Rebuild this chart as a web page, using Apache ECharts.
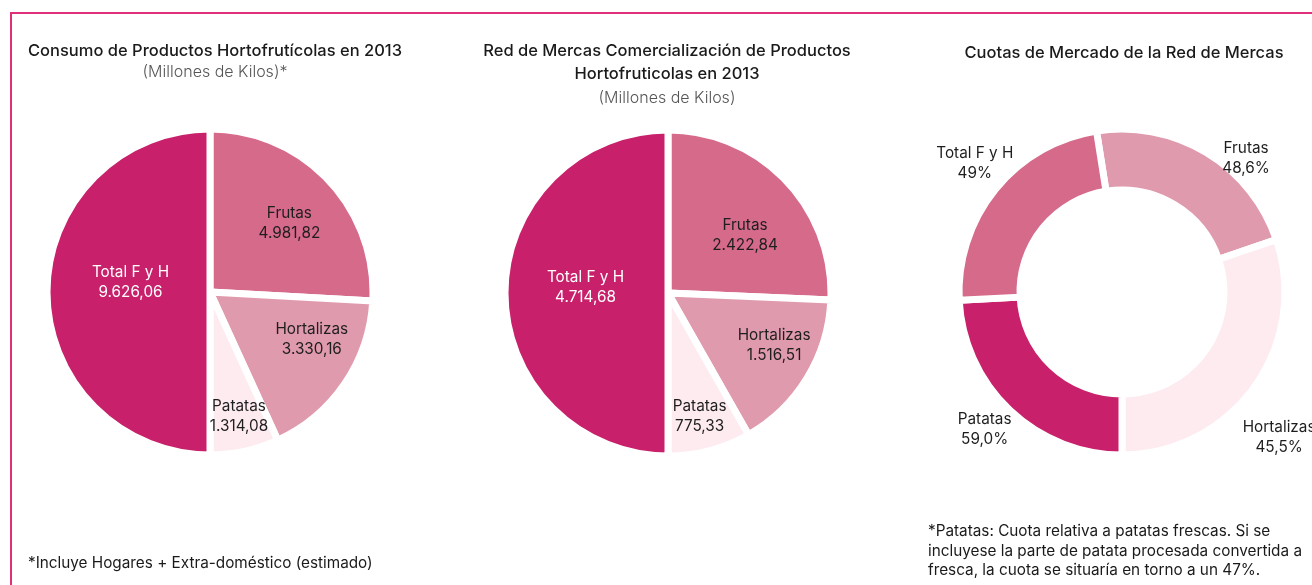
<!DOCTYPE html>
<html>
<head>
<meta charset="utf-8">
<script src="https://cdn.jsdelivr.net/npm/echarts@6/dist/echarts.min.js"></script>
<style>
  html, body { margin: 0; padding: 0; background: #fff; }
  #main { width: 1312px; height: 585px; }
</style>
</head>
<body>
<div id="main"></div>
<script>
// orden de los sectores, en sentido horario desde arriba
const categorias = ["Frutas", "Hortalizas", "Patatas", "Total F y H"];

// Consumo (millones de kilos)
const consumo = [4981.82, 3330.16, 1314.08, 9626.06];
// Red de Mercas (millones de kilos)
const mercas = [2422.84, 1516.51, 775.33, 4714.68];
// Cuotas de mercado: texto y peso del sector
const cuotaTexto = ["48,6%", "45,5%", "59,0%", "49%"];
const cuotaSector = [22.3, 30.2, 24.2, 23.3];

const colPie = ["#D56A8B", "#E09AAD", "#FDEBF0", "#C8206A"];
const colDonut = ["#E09AAD", "#FDEBF0", "#C8206A", "#D56A8B"];

// desplazamiento de etiquetas
const offPie1 = [[18, -11], [32, 0], [11, 42], [5, -10]];
const offPie2 = [[16, 1], [34, 8], [10, 42], [2, -6]];
const offDonut = [[54, -18], [47, 66], [-44, 39], [-42, -43]];

const FONT = "Inter";

const fmt = (v) => {
  const parts = v.toFixed(2).split(".");
  const ent = parts[0].replace(/\B(?=(\d{3})+(?!\d))/g, ".");
  return ent + "," + parts[1];
};

const myChart = echarts.init(document.getElementById("main"));

const pieData = (values, colors, offsets) =>
  values.map((v, i) => ({
    name: categorias[i],
    value: v,
    itemStyle: { color: colors[i] },
    label: {
      offset: offsets[i],
      color: categorias[i] === "Total F y H" ? "#ffffff" : "#1e1e1e",
    },
  }));

const basePie = {
  type: "pie",
  radius: [0, 163],
  startAngle: 90,
  clockwise: true,
  silent: true,
  animation: false,
  itemStyle: { borderColor: "#fff", borderWidth: 7 },
  labelLine: { show: false },
  label: {
    show: true,
    position: "inside",
    fontFamily: FONT,
    fontSize: 15.3,
    lineHeight: 20,
    formatter: (p) => p.name + "\n" + fmt(p.value),
  },
};

const titleStyle = { fontFamily: FONT, fontSize: 16.5, fontWeight: 500, color: "#1a1a1a" };
const subStyle = { fontFamily: FONT, fontSize: 16, fontWeight: 300, color: "#555" };

const options = {
  backgroundColor: "#fff",
  title: [
    {
      text: "Consumo de Productos Hortofrutícolas en 2013",
      subtext: "(Millones de Kilos)*",
      left: 210,
      top: 38,
      textAlign: "center",
      textStyle: titleStyle,
      subtextStyle: subStyle,
      itemGap: 4,
    },
    {
      text: "Red de Mercas Comercialización de Productos\nHortofruticolas en 2013",
      subtext: "(Millones de Kilos)",
      left: 662,
      top: 35,
      textAlign: "center",
      textStyle: Object.assign({ lineHeight: 23 }, titleStyle),
      subtextStyle: subStyle,
      itemGap: 4,
    },
    {
      text: "Cuotas de Mercado de la Red de Mercas",
      left: 1119,
      top: 40,
      textAlign: "center",
      textStyle: titleStyle,
    },
  ],
  graphic: [
    {
      type: "polyline",
      shape: { points: [[11, 585], [11, 13], [1312, 13]] },
      style: { stroke: "#E0307A", lineWidth: 2, fill: null },
    },
    {
      type: "text",
      left: 28,
      top: 556,
      style: {
        text: "*Incluye Hogares + Extra-doméstico (estimado)",
        font: "400 15.3px " + FONT,
        fill: "#1a1a1a",
      },
    },
    {
      type: "text",
      left: 928,
      top: 522,
      style: {
        text:
          "*Patatas: Cuota relativa a patatas frescas. Si se\n" +
          "incluyese la parte de patata procesada convertida a\n" +
          "fresca, la cuota se situaría en torno a un 47%.",
        font: "400 15.3px " + FONT,
        lineHeight: 19.5,
        fill: "#1a1a1a",
      },
    },
  ],
  series: [
    Object.assign({}, basePie, {
      center: [210, 292],
      data: pieData(consumo, colPie, offPie1),
    }),
    Object.assign({}, basePie, {
      center: [668, 293],
      data: pieData(mercas, colPie, offPie2),
    }),
    Object.assign({}, basePie, {
      center: [1122, 292],
      radius: [102, 163],
      startAngle: 99,
      data: cuotaSector.map((v, i) => ({
        name: categorias[i],
        value: v,
        itemStyle: { color: colDonut[i] },
        label: { offset: offDonut[i], color: "#1e1e1e" },
      })),
      label: Object.assign({}, basePie.label, {
        formatter: (p) => p.name + "\n" + cuotaTexto[p.dataIndex],
      }),
    }),
  ],
};

myChart.setOption(options);
</script>
</body>
</html>
